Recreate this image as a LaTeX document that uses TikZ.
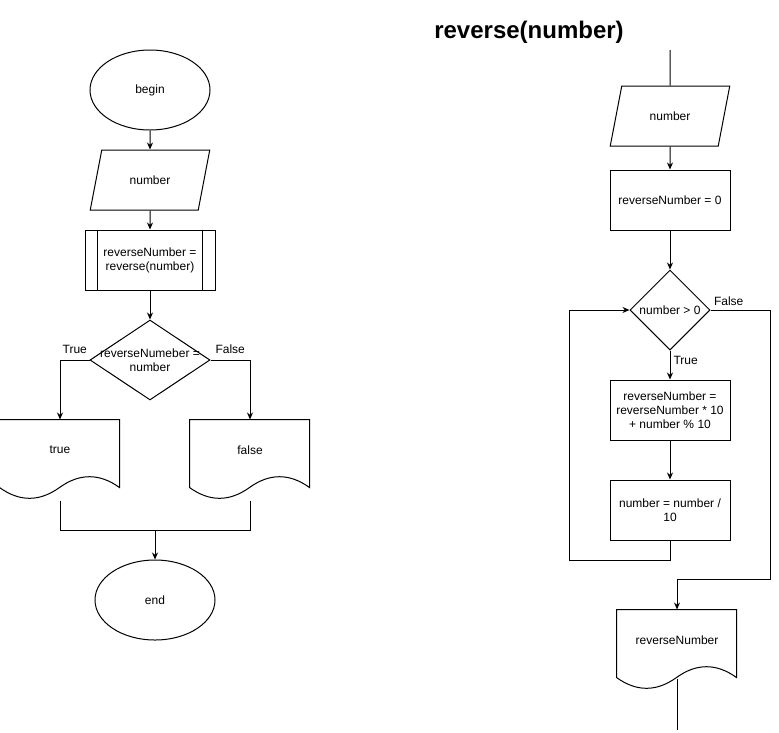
\documentclass[tikz,border=0pt]{standalone}
\usepackage{fontspec}
\setmainfont{Liberation Sans}
\usepackage{tikz}
\usetikzlibrary{shapes.geometric, arrows.meta, positioning}

% wavy bottom of a document box, drawn from its north west corner
\newcommand{\docwave}[1]{%
  \draw[shift={(#1.north west)}] (0, 0) -- (120, 0) -- (120, 68)
    .. controls (100, 53.6) and (80, 53.6) .. (60, 68)
    .. controls (40, 82.4) and (20, 82.4) .. (0, 68) -- cycle;}

\begin{document}
\begin{tikzpicture}[x=1pt, y=-1pt, line width=1pt,
  every node/.style={font=\fontsize{12}{14}\selectfont, align=center, inner sep=2pt},
  term/.style={draw, ellipse, minimum width=120pt, minimum height=80pt, inner sep=0pt},
  io/.style={draw, trapezium, trapezium left angle=67.4, trapezium right angle=112.6,
    trapezium stretches=true, minimum width=120pt, minimum height=60pt},
  proc/.style={draw, rectangle, minimum width=120pt, minimum height=60pt},
  subproc/.style={proc, minimum width=130pt},
  decide/.style={draw, diamond, minimum width=120pt, minimum height=80pt, inner sep=0pt},
  docbox/.style={rectangle, minimum width=120pt, minimum height=80pt},
  flow/.style={-{Stealth[length=7pt, width=6pt]}},
  tag/.style={inner sep=0pt}]

  \useasboundingbox (0, 0) rectangle (779, 732);

  % main program
  \node[term] (start) at (150, 90) {begin};
  \node[io] (num) at (150, 180) {number};
  \node[subproc] (rev) at (150, 260) {reverseNumber =\\reverse(number)};
  \draw ([xshift=13pt]rev.north west) -- ([xshift=13pt]rev.south west);
  \draw ([xshift=-13pt]rev.north east) -- ([xshift=-13pt]rev.south east);
  \node[decide, label=center:{reverseNumeber =\\number}] (cmp) at (150, 360) {};
  \node[docbox, label={[yshift=10pt]center:true}] (tdoc) at (60, 460) {};
  \docwave{tdoc}
  \node[docbox, label={[yshift=10pt]center:false}] (fdoc) at (250, 460) {};
  \docwave{fdoc}
  \node[term] (stop) at (155, 600) {end};
  \coordinate (join) at (155, 530);

  \draw[flow] (start.south) -- (num.north);
  \draw[flow] (num.south) -- (rev.north);
  \draw[flow] (rev.south) -- (cmp.north);
  \draw[flow] (cmp.west) -| (tdoc.north) node[tag, pos=0.25, above=6pt] {True};
  \draw[flow] (cmp.east) -| (fdoc.north) node[tag, pos=0.25, above=6pt] {False};
  \draw (tdoc.south) |- (join);
  \draw (fdoc.south) |- (join);
  \draw[flow] (join) -- (stop.north);

  % the function
  \node[font=\bfseries\fontsize{24}{28}\selectfont] (title) at (529, 32) {reverse(number)};
  \coordinate (rtop) at (670, 50);
  \node[io] (rnum) at (670, 116) {number};
  \node[proc] (init) at (670, 200) {reverseNumber = 0};
  \node[decide, minimum width=80pt, label=center:{number > 0}] (loop) at (670, 310) {};
  \node[proc] (body) at (670, 410) {reverseNumber =\\reverseNumber * 10\\+ number \% 10};
  \node[proc] (step) at (670, 510) {number = number /\\10};
  \node[docbox, label={[yshift=10pt]center:reverseNumber}] (out) at (677, 650) {};
  \docwave{out}
  \coordinate (rend) at (677, 730);

  \draw (rtop) -- (rnum.north);
  \draw[flow] (rnum.south) -- (init.north);
  \draw[flow] (init.south) -- (loop.north);
  \draw[flow] (loop.south) -- (body.north) node[tag, pos=0.33, right=3pt] {True};
  \draw[flow] (body.south) -- (step.north);
  \draw[flow] (step.south) -- ++(0, 20) -| ([xshift=-60pt]loop.west) -- (loop.west);
  \draw[flow] (loop.east) node[tag, above right=4pt and 3pt] {False}
    -- ++(60, 0) |- ([yshift=30pt]out.north) -- (out.north);
  \draw ([yshift=12pt]out.south) -- (rend);
\end{tikzpicture}
\end{document}
